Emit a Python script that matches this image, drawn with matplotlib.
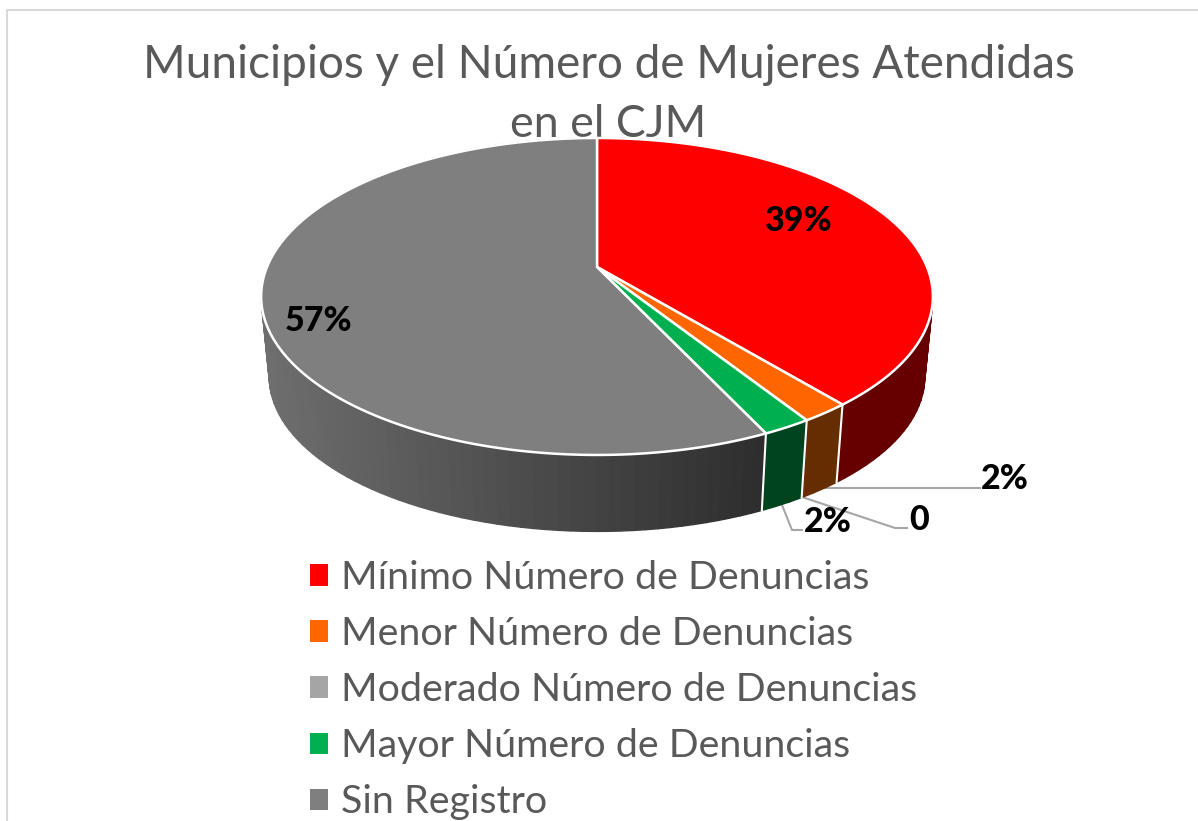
import numpy as np
import matplotlib
matplotlib.use("Agg")
import matplotlib.pyplot as plt
from matplotlib.patches import Polygon, Patch
from matplotlib.colors import to_rgb

categories = ["Mínimo Número de Denuncias", "Menor Número de Denuncias",
              "Moderado Número de Denuncias", "Mayor Número de Denuncias", "Sin Registro"]
values = [39, 2, 0, 2, 57]
labels = ["39%", "2%", "0", "2%", "57%"]
colors = ["#ff0000", "#ff6600", "#a5a5a5", "#00b050", "#7f7f7f"]
side_left = ["#660000", "#662d00", "#424242", "#00431f", "#6e6e6e"]
side_right = ["#660000", "#662d00", "#424242", "#00431f", "#2e2e2e"]
title_lines = ["Municipios y el Número de Mujeres Atendidas", "en el CJM"]

plt.rcParams['font.family'] = ['Lato', 'DejaVu Sans']

# perspective of the tilted disc, in pixels of the picture
K = 0.186


def project(t, x0, y0, rx, ry):
    u, v = np.sin(t), np.cos(t)
    d = 1 + K * v
    return x0 + rx * u / d, y0 - ry * v / d


def top_face(t):
    return project(t, 597, 267, 330, 153)


def bottom_face(t):
    return project(t, 597, 348, 322, 149.3)


fig = plt.figure(figsize=(11.98, 8.21), dpi=100)
ax = fig.add_axes([0, 0, 1, 1])
ax.set_xlim(0, 1198)
ax.set_ylim(821, 0)
ax.axis("off")

# frame of the chart, only left and top are in the crop
ax.plot([7, 7, 1198], [821, 10, 10], color="#d9d9d9", lw=1.5, zorder=1)

ax.text(609, 78, title_lines[0], fontsize=33, color="#595959", ha="center", va="baseline", zorder=2)
ax.text(608, 137, title_lines[1], fontsize=32.2, color="#595959", ha="center", va="baseline", zorder=2)

edges = np.cumsum([0] + values) / sum(values) * 2 * np.pi

# side wall
for i in range(len(values)):
    if values[i] == 0:
        continue
    ts = np.linspace(edges[i], edges[i + 1], max(4, values[i] * 2))
    c0, c1 = np.array(to_rgb(side_left[i])), np.array(to_rgb(side_right[i]))
    for a, b in zip(ts[:-1], ts[1:]):
        xa, ya = top_face(a)
        xb, yb = top_face(b)
        xc, yc = bottom_face(b)
        xd, yd = bottom_face(a)
        f = np.clip((xa - 265) / 500, 0, 1)
        col = c0 + (c1 - c0) * f
        ax.add_patch(Polygon([(xa, ya), (xb, yb), (xc, yc), (xd, yd)], closed=True,
                             facecolor=col, edgecolor=col, lw=1.0, zorder=3))

# white seams on the visible side wall
for i in [1, 2, 4]:
    t = edges[i]
    xa, ya = top_face(t)
    xd, yd = bottom_face(t)
    ax.plot([xa, xd], [ya, yd], color="white", lw=1.5, zorder=4)

# top face
for i in range(len(values)):
    if values[i] == 0:
        continue
    ts = np.linspace(edges[i], edges[i + 1], 200)
    xs, ys = top_face(ts)
    pts = [(597, 267)] + list(zip(xs, ys))
    ax.add_patch(Polygon(pts, closed=True, facecolor=colors[i], edgecolor="white",
                         lw=1.8, joinstyle="round", zorder=5))

# data labels
ax.text(799, 231, labels[0], fontsize=24.5, fontweight="black", color="black", ha="center", va="baseline", zorder=6)
ax.text(319, 331, labels[4], fontsize=24.5, fontweight="black", color="black", ha="center", va="baseline", zorder=6)
ax.text(1005, 489, labels[1], fontsize=24.5, fontweight="black", color="black", ha="center", va="baseline", zorder=6)
ax.text(919, 530, labels[2], fontsize=24.5, fontweight="black", color="black", ha="center", va="baseline", zorder=6)
ax.text(828, 532, labels[3], fontsize=24.5, fontweight="black", color="black", ha="center", va="baseline", zorder=6)

# leader lines
ax.plot([820, 980], [488, 488], color="#a6a6a6", lw=1.5, zorder=2)
ax.plot([802, 895, 907], [497, 528, 528], color="#a6a6a6", lw=1.5, zorder=2)
ax.plot([782, 792, 802], [505, 530, 530], color="#a6a6a6", lw=1.5, zorder=2)

handles = [Patch(facecolor=c, edgecolor="none") for c in colors]
leg = ax.legend(handles, categories, loc="upper left", bbox_to_anchor=(310, 560),
                bbox_transform=ax.transData, frameon=False, fontsize=28.4,
                labelcolor="#595959", handlelength=0.46, handleheight=0.46,
                handletextpad=0.33, labelspacing=0.51, borderpad=0, borderaxespad=0)
leg.set_zorder(6)

fig.savefig("out.png", dpi=100)
